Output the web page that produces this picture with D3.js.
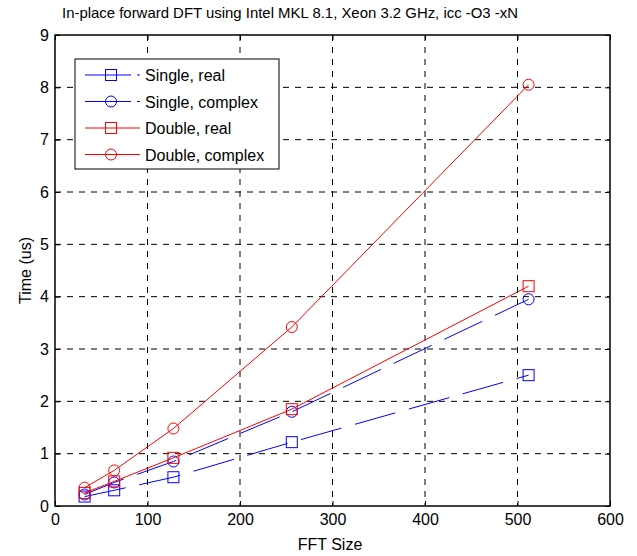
<!DOCTYPE html>
<html>
<head>
<meta charset="utf-8">
<script src="https://cdn.jsdelivr.net/npm/d3@7"></script>
<style>
  body { margin: 0; background: #fff; }
  text { font-family: "Liberation Sans", Arial, sans-serif; }
</style>
</head>
<body>
<div id="chart"></div>
<script>
// FFT sizes and timings (us)
const fftSizes = [32, 64, 128, 256, 512]
const singleReal = [0.18, 0.3, 0.55, 1.22, 2.5]
const singleComplex = [0.22, 0.45, 0.85, 1.8, 3.95]
const doubleReal = [0.25, 0.47, 0.92, 1.85, 4.2]
const doubleComplex = [0.35, 0.68, 1.48, 3.42, 8.05]
const seriesNames = ['Single, real', 'Single, complex', 'Double, real', 'Double, complex']
const xTicks = [0, 100, 200, 300, 400, 500, 600]
const yTicks = [0, 1, 2, 3, 4, 5, 6, 7, 8, 9]

const series = [
  { name: seriesNames[0], values: singleReal, color: '#0000ff', marker: 'square', dash: '42,14' },
  { name: seriesNames[1], values: singleComplex, color: '#0000ff', marker: 'circle', dash: '42,14' },
  { name: seriesNames[2], values: doubleReal, color: '#ff0000', marker: 'square', dash: null },
  { name: seriesNames[3], values: doubleComplex, color: '#ff0000', marker: 'circle', dash: null }
]

const width = 637
const height = 556
const plotLeft = 55, plotRight = 610, plotTop = 35, plotBottom = 506

const svg = d3.select('#chart').append('svg').attr('width', width).attr('height', height)

const x = d3.scaleLinear().domain([0, 600]).range([plotLeft, plotRight])
const y = d3.scaleLinear().domain([0, 9]).range([plotBottom, plotTop])

// Grid lines
svg.append('g')
  .selectAll('line')
  .data(xTicks.slice(1, -1))
  .join('line')
  .attr('x1', d => x(d)).attr('x2', d => x(d))
  .attr('y1', plotTop).attr('y2', plotBottom)
  .attr('stroke', '#000')
  .attr('stroke-width', 1)
  .attr('stroke-dasharray', '6,6')

svg.append('g')
  .selectAll('line')
  .data(yTicks.slice(1, -1))
  .join('line')
  .attr('x1', plotLeft).attr('x2', plotRight)
  .attr('y1', d => y(d)).attr('y2', d => y(d))
  .attr('stroke', '#000')
  .attr('stroke-width', 1)
  .attr('stroke-dasharray', '6,6')

// Axes (ticks inside)
const axisStyle = g => {
  g.select('.domain').remove()
  g.selectAll('text').attr('font-size', '16px').attr('fill', '#000')
    .style('font-family', '"Liberation Sans", Arial, sans-serif')
  g.selectAll('line').attr('stroke', '#000')
}

svg.append('g')
  .attr('transform', `translate(0,${plotBottom})`)
  .call(d3.axisBottom(x).tickValues(xTicks).tickSize(-5).tickPadding(8).tickFormat(d3.format('d')))
  .call(axisStyle)

svg.append('g')
  .attr('transform', `translate(0,${plotTop})`)
  .call(d3.axisTop(x).tickValues(xTicks).tickSize(-5).tickFormat(''))
  .call(axisStyle)

svg.append('g')
  .attr('transform', `translate(${plotLeft},0)`)
  .call(d3.axisLeft(y).tickValues(yTicks).tickSize(-5).tickPadding(6).tickFormat(d3.format('d')))
  .call(axisStyle)

svg.append('g')
  .attr('transform', `translate(${plotRight},0)`)
  .call(d3.axisRight(y).tickValues(yTicks).tickSize(-5).tickFormat(''))
  .call(axisStyle)

// Frame
svg.append('rect')
  .attr('x', plotLeft).attr('y', plotTop)
  .attr('width', plotRight - plotLeft).attr('height', plotBottom - plotTop)
  .attr('fill', 'none').attr('stroke', '#000').attr('stroke-width', 1.5)

// Lines and markers
const line = d3.line().x((d, i) => x(fftSizes[i])).y(d => y(d))

function drawMarker(g, type, cx, cy, color) {
  if (type === 'square') {
    g.append('rect')
      .attr('x', cx - 5.5).attr('y', cy - 5.5)
      .attr('width', 11).attr('height', 11)
      .attr('fill', 'none').attr('stroke', color).attr('stroke-width', 1)
  } else {
    g.append('circle')
      .attr('cx', cx).attr('cy', cy).attr('r', 5.5)
      .attr('fill', 'none').attr('stroke', color).attr('stroke-width', 1)
  }
}

series.forEach(s => {
  const g = svg.append('g')
  g.append('path')
    .attr('d', line(s.values))
    .attr('fill', 'none')
    .attr('stroke', s.color)
    .attr('stroke-width', 1)
    .attr('stroke-dasharray', s.dash)
  s.values.forEach((v, i) => drawMarker(g, s.marker, x(fftSizes[i]), y(v), s.color))
})

// Legend
const legend = svg.append('g')
legend.append('rect')
  .attr('x', 75).attr('y', 59).attr('width', 204).attr('height', 110)
  .attr('fill', '#fff').attr('stroke', '#000').attr('stroke-width', 1)

series.forEach((s, i) => {
  const ly = 75 + i * 26.5
  legend.append('line')
    .attr('x1', 85).attr('x2', 140).attr('y1', ly).attr('y2', ly)
    .attr('stroke', s.color).attr('stroke-width', 1)
    .attr('stroke-dasharray', s.dash ? '46,6' : null)
  drawMarker(legend, s.marker, 111, ly, s.color)
  legend.append('text')
    .attr('x', 145).attr('y', ly + 6)
    .attr('font-size', '16px')
    .attr('fill', '#000')
    .text(s.name)
})

// Title and axis labels
svg.append('text')
  .attr('x', 290).attr('y', 18)
  .attr('text-anchor', 'middle')
  .attr('font-size', '15px')
  .attr('textLength', 456)
  .attr('lengthAdjust', 'spacingAndGlyphs')
  .text('In-place forward DFT using Intel MKL 8.1, Xeon 3.2 GHz, icc -O3 -xN')

svg.append('text')
  .attr('x', 330).attr('y', 550)
  .attr('text-anchor', 'middle')
  .attr('font-size', '16px')
  .text('FFT Size')

svg.append('text')
  .attr('transform', `translate(31,${(plotTop + plotBottom) / 2}) rotate(-90)`)
  .attr('text-anchor', 'middle')
  .attr('font-size', '16px')
  .text('Time (us)')
</script>
</body>
</html>
